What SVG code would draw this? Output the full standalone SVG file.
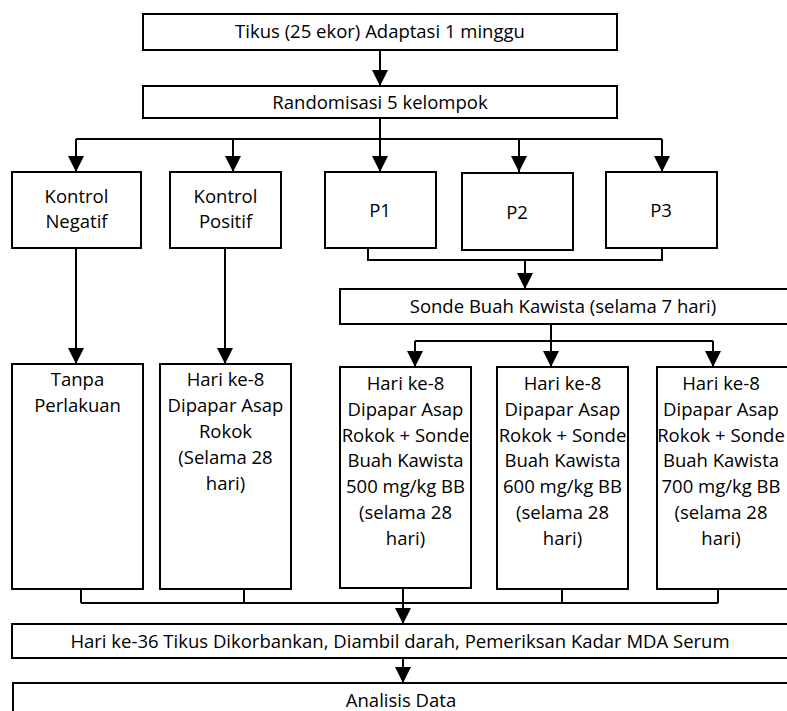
<svg xmlns="http://www.w3.org/2000/svg" width="787" height="711" viewBox="0 0 787 711">
<style>
.b{fill:#fff;stroke:#000;stroke-width:2}
.t{font-family:"Open Sans","Liberation Sans",sans-serif;font-size:18.5px;fill:#000;text-anchor:middle}
.c{fill:none;stroke:#000;stroke-width:2}
.a{marker-end:url(#ah)}
</style>
<defs>
<marker id="ah" markerUnits="userSpaceOnUse" markerWidth="16" markerHeight="16" refX="16" refY="8" orient="auto">
<path d="M0,0 L16,8 L0,16 z" fill="#000"/>
</marker>
</defs>
<rect width="787" height="711" fill="#fff"/>
<g id="connectors">
<path class="c a" d="M380,50 V86"/>
<path class="c" d="M380,118 V139 M76,139 H662"/>
<path class="c a" d="M76,139 V172"/>
<path class="c a" d="M233,139 V172"/>
<path class="c a" d="M380,139 V172"/>
<path class="c a" d="M519,139 V172"/>
<path class="c a" d="M662,139 V172"/>
<path class="c" d="M368,248 V260 H662 V248"/>
<path class="c a" d="M525,260 V289"/>
<path class="c a" d="M76,248 V364"/>
<path class="c a" d="M225,248 V364"/>
<path class="c" d="M551,324 V341 M415,341 H713"/>
<path class="c a" d="M415,341 V367"/>
<path class="c a" d="M551,341 V367"/>
<path class="c a" d="M713,341 V367"/>
<path class="c" d="M81,589 V603 M244,589 V603 M403,588 V603 M562,589 V603 M718,589 V603 M81,603 H718"/>
<path class="c a" d="M403,603 V624"/>
<path class="c a" d="M403,658 V683"/>
</g>
<g id="n-tikus"><rect class="b" x="143" y="14" width="474" height="36"/><text class="t" x="380" y="38">Tikus (25 ekor) Adaptasi 1 minggu</text></g>
<g id="n-random"><rect class="b" x="143" y="86" width="474" height="32"/><text class="t" x="380" y="109">Randomisasi 5 kelompok</text></g>
<g id="n-kn"><rect class="b" x="12" y="172" width="129" height="76"/><text class="t" x="76.5" y="203">Kontrol</text><text class="t" x="76.5" y="228">Negatif</text></g>
<g id="n-kp"><rect class="b" x="170" y="172" width="111" height="76"/><text class="t" x="225.5" y="203">Kontrol</text><text class="t" x="225.5" y="228">Positif</text></g>
<g id="n-p1"><rect class="b" x="325" y="172" width="111" height="76"/><text class="t" x="380" y="217">P1</text></g>
<g id="n-p2"><rect class="b" x="462" y="173" width="111" height="77"/><text class="t" x="517" y="219">P2</text></g>
<g id="n-p3"><rect class="b" x="606" y="172" width="111" height="76"/><text class="t" x="661" y="217">P3</text></g>
<g id="n-sonde"><rect class="b" x="340" y="289" width="460" height="35"/><text class="t" x="563" y="313">Sonde Buah Kawista (selama 7 hari)</text></g>
<g id="n-tanpa"><rect class="b" x="12" y="364" width="131" height="225"/><text class="t" x="77.5" y="386">Tanpa</text><text class="t" x="77.5" y="412">Perlakuan</text></g>
<g id="n-kp2"><rect class="b" x="160" y="364" width="131" height="225"/><text class="t" x="225.5" y="386">Hari ke-8</text><text class="t" x="225.5" y="412">Dipapar Asap</text><text class="t" x="225.5" y="438">Rokok</text><text class="t" x="225.5" y="464">(Selama 28</text><text class="t" x="225.5" y="490">hari)</text></g>
<g id="n-p1b"><rect class="b" x="340" y="367" width="131" height="221"/><text class="t" x="405.5" y="390">Hari ke-8</text><text class="t" x="405.5" y="416">Dipapar Asap</text><text class="t" x="405.5" y="441.5">Rokok + Sonde</text><text class="t" x="405.5" y="467">Buah Kawista</text><text class="t" x="405.5" y="493">500 mg/kg BB</text><text class="t" x="405.5" y="519">(selama 28</text><text class="t" x="405.5" y="545">hari)</text></g>
<g id="n-p2b"><rect class="b" x="497" y="367" width="131" height="222"/><text class="t" x="562.5" y="390">Hari ke-8</text><text class="t" x="562.5" y="416">Dipapar Asap</text><text class="t" x="562.5" y="441.5">Rokok + Sonde</text><text class="t" x="562.5" y="467">Buah Kawista</text><text class="t" x="562.5" y="493">600 mg/kg BB</text><text class="t" x="562.5" y="519">(selama 28</text><text class="t" x="562.5" y="545">hari)</text></g>
<g id="n-p3b"><rect class="b" x="657" y="367" width="131" height="222"/><text class="t" x="721" y="390">Hari ke-8</text><text class="t" x="721" y="416">Dipapar Asap</text><text class="t" x="721" y="441.5">Rokok + Sonde</text><text class="t" x="721" y="467">Buah Kawista</text><text class="t" x="721" y="493">700 mg/kg BB</text><text class="t" x="721" y="519">(selama 28</text><text class="t" x="721" y="545">hari)</text></g>
<g id="n-hari36"><rect class="b" x="12" y="624" width="790" height="34"/><text class="t" x="400" y="648">Hari ke-36 Tikus Dikorbankan, Diambil darah, Pemeriksan Kadar MDA Serum</text></g>
<g id="n-analisis"><rect class="b" x="13" y="683" width="790" height="40"/><text class="t" x="401" y="707">Analisis Data</text></g>
</svg>
